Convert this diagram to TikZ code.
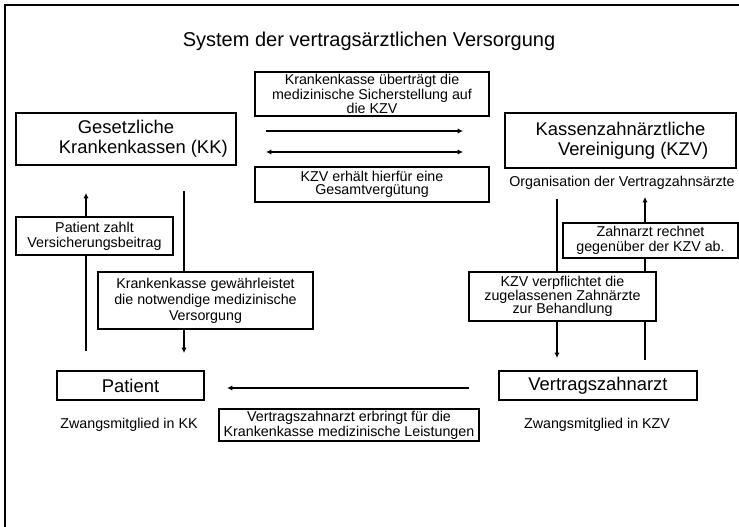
\documentclass[tikz,border=0pt]{standalone}
\usepackage{fontspec}
\setmainfont{Liberation Sans}
\usetikzlibrary{arrows.meta}
\newcommand{\px}{0.75pt}

\begin{document}
\begin{tikzpicture}[x=\px,y=-\px]

\tikzstyle{big} = [draw=black, line width=0.9pt, fill=white, inner sep=0pt, align=center, font=\fontsize{13.8}{15}\selectfont]
\tikzstyle{lbl} = [draw=black, line width=0.9pt, fill=white, inner sep=0pt, align=center]
\tikzstyle{txt} = [inner sep=0pt, font=\fontsize{10.7}{12}\selectfont]
\tikzstyle{e} = [-{Latex[length=4pt,width=4pt]}, line width=1.4pt]
\tikzstyle{ee} = [{Latex[length=4pt,width=4pt]}-{Latex[length=4pt,width=4pt]}, line width=1.4pt]

\useasboundingbox (0,0) rectangle (739,527);
\draw[line width=1.7pt] (5,527) -- (5,5) -- (739,5);

\node[inner sep=0pt, font=\fontsize{15}{17}\selectfont](T)at(369,41){System der vertragsärztlichen Versorgung};

\node[big, minimum width=220*\px, minimum height=52*\px](KK)at(126,139){Gesetzliche\\\hspace*{26pt}Krankenkassen (KK)};
\node[big, minimum width=231*\px, minimum height=55*\px](KZV)at(620.5,140.5){Kassenzahnärztliche\\\hspace*{19pt}Vereinigung (KZV)};
\node[txt](O)at(622,183){Organisation der Vertragzahnsärzte};

% arrow ends
\coordinate (a1)at(266,131);
\coordinate (a2)at(463,131);
\coordinate (b1)at(266,152);
\coordinate (b2)at(463,152);
\coordinate (pu1)at(86,351);
\coordinate (pu2)at(86,193);
\coordinate (kd1)at(184,191);
\coordinate (kd2)at(184,353);
\coordinate (zd1)at(557,199);
\coordinate (zd2)at(557,358);
\coordinate (zu1)at(645,360);
\coordinate (zu2)at(645,197);
\coordinate (v1)at(469,388);
\coordinate (v2)at(227,388);

\draw[e](a1) -- (a2);
\draw[ee](b1) -- (b2);
\draw[e](pu1) -- (pu2);
\draw[e](kd1) -- (kd2);
\draw[e](zd1) -- (zd2);
\draw[e](zu1) -- (zu2);
\draw[e](v1) -- (v2);

\node[lbl, minimum width=234*\px, minimum height=44*\px, font=\fontsize{10.7}{8.8}\selectfont](UB)at(372,94){Krankenkasse überträgt die\\medizinische Sicherstellung auf\\die KZV};
\node[lbl, minimum width=234*\px, minimum height=35*\px, font=\fontsize{10.7}{9.8}\selectfont](GV)at(372,184.5){KZV erhält hierfür eine\\Gesamtvergütung};

\node[lbl, minimum width=157*\px, minimum height=38*\px, font=\fontsize{10.7}{11.25}\selectfont](PZ)at(94.5,236){Patient zahlt\\Versicherungsbeitrag};
\node[lbl, minimum width=215*\px, minimum height=57*\px, font=\fontsize{10.7}{12}\selectfont](KG)at(205.5,300.5){Krankenkasse gewährleistet\\die notwendige medizinische\\Versorgung};
\node[lbl, minimum width=187*\px, minimum height=49*\px, font=\fontsize{10.7}{10}\selectfont](KV)at(562.5,296.5){KZV verpflichtet die\\zugelassenen Zahnärzte\\zur Behandlung};
\node[lbl, minimum width=175*\px, minimum height=35*\px, font=\fontsize{10.7}{11.25}\selectfont](ZR)at(650.5,240.5){Zahnarzt rechnet\\gegenüber der KZV ab.};

\node[big, minimum width=147*\px, minimum height=29*\px](P)at(130.5,385.5){Patient};
\node[big, minimum width=198*\px, minimum height=29*\px](VZ)at(598,385.5){Vertragszahnarzt};

\node[txt](ZK)at(129,425){Zwangsmitglied in KK};
\node[lbl, minimum width=260*\px, minimum height=32*\px, font=\fontsize{10.7}{9}\selectfont](VE)at(349,425){Vertragszahnarzt erbringt für die\\Krankenkasse medizinische Leistungen};
\node[txt](ZV)at(597,425){Zwangsmitglied in KZV};

\end{tikzpicture}
\end{document}
